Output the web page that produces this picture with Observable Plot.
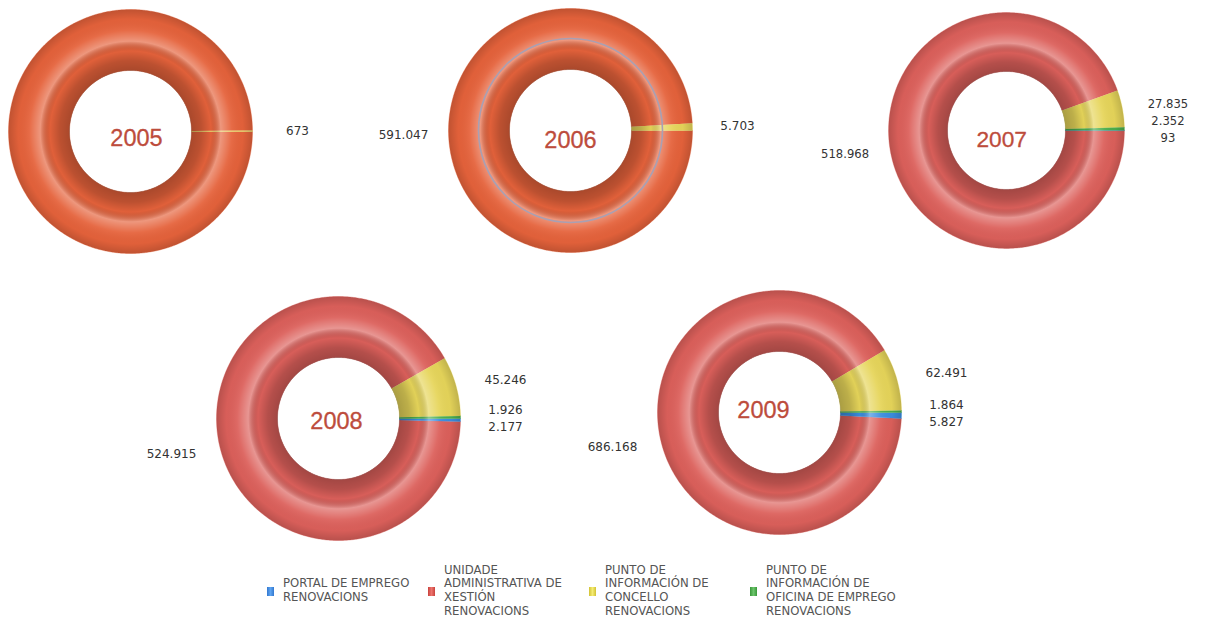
<!DOCTYPE html>
<html><head><meta charset="utf-8">
<script src="https://cdn.jsdelivr.net/npm/d3@7"></script>
<script src="https://cdn.jsdelivr.net/npm/@observablehq/plot@0.6"></script>
<style>
html,body{margin:0;padding:0;background:#fff;width:1209px;height:619px;overflow:hidden;position:relative;font-family:"DejaVu Sans",sans-serif}
.chart{position:absolute}
#legend{position:absolute;left:267px;top:560px;display:flex;align-items:center;height:62px}
.item{width:161px;display:flex;align-items:center}
.sw{width:7px;height:9px;margin-right:9px;flex:none}
.lt{max-width:136px;font-size:11.7px;line-height:13.7px;color:#555}
</style></head>
<body>
<svg width="0" height="0" style="position:absolute;left:0;top:0">
<defs>
<radialGradient id="shade" cx="50%" cy="50%" r="50%">
<stop offset="0" stop-color="#000" stop-opacity="0"/>
<stop offset="0.495" stop-color="#000" stop-opacity="0"/>
<stop offset="0.50" stop-color="#000" stop-opacity="0.26"/>
<stop offset="0.58" stop-color="#000" stop-opacity="0.18"/>
<stop offset="0.66" stop-color="#000" stop-opacity="0.02"/>
<stop offset="0.74" stop-color="#fff" stop-opacity="0.34"/>
<stop offset="0.83" stop-color="#fff" stop-opacity="0.06"/>
<stop offset="0.92" stop-color="#000" stop-opacity="0.02"/>
<stop offset="1.00" stop-color="#000" stop-opacity="0.16"/>
</radialGradient>
</defs>
</svg>
<div id="root"></div>
<div id="legend"></div>
<script>
// ---- data ----
const years = ["2005", "2006", "2007", "2008", "2009"];
const series = [
  "PORTAL DE EMPREGO RENOVACIONS",
  "UNIDADE ADMINISTRATIVA DE XESTIÓN RENOVACIONS",
  "PUNTO DE INFORMACIÓN DE CONCELLO RENOVACIONS",
  "PUNTO DE INFORMACIÓN DE OFICINA DE EMPREGO RENOVACIONS"
];
const portal   = [0, 0, 93, 2177, 5827];
const unidade  = [515000, 591047, 518968, 524915, 686168]; // 2005 value estimated (label off-page)
const concello = [673, 5703, 27835, 45246, 62491];
const oficina  = [0, 0, 2352, 1926, 1864];
const labelShown = [[false, false, true, false], [false, true, true, false], [true, true, true, true], [true, true, true, true], [true, true, true, true]];

// ---- styles / layout ----
const seriesColors = ["#3b8de0", "#dc605b", "#e6d55a", "#4cae4c"];
const unidadeYearColor = ["#e5623b", "#e5623b", "#dc605b", "#dc605b", "#dc605b"];
const swatchGrad = [
  "linear-gradient(to right,#3278d0,#5ea4f0,#3278d0)",
  "linear-gradient(to right,#c9423c,#ec746e,#c9423c)",
  "linear-gradient(to right,#d2c234,#f5ec74,#d2c234)",
  "linear-gradient(to right,#3a983a,#6cc46c,#3a983a)"
];
const centers = [[130, 131], [569.5, 129.5], [1013, 135], [337.5, 417.5], [778.5, 411.5]];
const yearOffsets = [[6, 7], [0, 10], [-5, 10], [-2, 2.5], [-16, -2.5]];
const rOut = 122, rIn = 61, rLabel = 145, labelX = 167, gap = 17.5;
const W = 420, H = 300;

const fmt = d3.formatLocale({decimal: ",", thousands: ".", grouping: [3], currency: ["", "€"]}).format(",d");

function spread(items) {
  items.sort((a, b) => a.y0 - b.y0);
  let groups = items.map(d => ({members: [d], center: d.y0}));
  let changed = true;
  while (changed) {
    changed = false;
    for (let i = 0; i < groups.length - 1; i++) {
      const a = groups[i], b = groups[i + 1];
      const aB = a.center + (a.members.length - 1) * gap / 2;
      const bT = b.center - (b.members.length - 1) * gap / 2;
      if (bT - aB < gap) {
        const members = [...a.members, ...b.members];
        groups.splice(i, 2, {members, center: d3.mean(members, m => m.y0)});
        changed = true; break;
      }
    }
  }
  groups.forEach(g => g.members.forEach((m, k) => { m.y = g.center + (k - (g.members.length - 1) / 2) * gap; }));
}

const root = document.getElementById("root");
years.forEach((year, i) => {
  const values = [portal[i], unidade[i], concello[i], oficina[i]];
  const total = d3.sum(values);
  let acc = 0;
  const slices = values.map((v, s) => {
    const a0 = acc / total * 2 * Math.PI;
    acc += v;
    const a1 = acc / total * 2 * Math.PI;
    return {s, v, a0, a1, mid: (a0 + a1) / 2};
  });
  const drawOrder = slices.filter(d => d.v > 0).sort((a, b) => b.v - a.v);
  const marks = [];
  drawOrder.forEach(sl => {
    const n = Math.max(2, Math.ceil((sl.a1 - sl.a0) / 0.01));
    const pts = [];
    for (let k = 0; k <= n; k++) { const t = sl.a0 + (sl.a1 - sl.a0) * k / n; pts.push({x: rOut * Math.cos(t), y: rOut * Math.sin(t)}); }
    for (let k = n; k >= 0; k--) { const t = sl.a0 + (sl.a1 - sl.a0) * k / n; pts.push({x: rIn * Math.cos(t), y: rIn * Math.sin(t)}); }
    const col = sl.s === 1 ? unidadeYearColor[i] : seriesColors[sl.s];
    marks.push(Plot.line(pts, {x: "x", y: "y", fill: col, stroke: col, strokeWidth: 0.4, curve: "linear"}));
  });
  marks.push(Plot.dot([{x: 0, y: 0}], {x: "x", y: "y", r: rOut, fill: "url(#shade)", stroke: "none"}));
  if (i === 1) marks.push(Plot.dot([{x: 0, y: 0}], {x: "x", y: "y", r: 92, fill: "none", stroke: "#a8a0b4", strokeWidth: 1.6}));

  const labels = slices.filter(d => d.v > 0 && labelShown[i][d.s]).map(d => {
    const right = Math.cos(d.mid) >= 0;
    return {x: right ? labelX : -labelX, y0: rLabel * Math.sin(d.mid), right, text: fmt(d.v)};
  });
  spread(labels.filter(d => d.right));
  spread(labels.filter(d => !d.right));
  marks.push(Plot.text(labels, {x: "x", y: "y", text: "text", textAnchor: "middle", fontSize: 12, fontFamily: "DejaVu Sans", fill: "#333"}));
  marks.push(Plot.text([{x: 0, y: 0, t: year}], {x: "x", y: "y", text: "t", dx: yearOffsets[i][0], dy: yearOffsets[i][1], fontSize: 23.5, fontFamily: "Liberation Sans", fill: "#bd4c3c", stroke: "#bd4c3c", strokeWidth: 0.3}));

  const chart = Plot.plot({
    width: W, height: H, margin: 0,
    x: {domain: [-W / 2, W / 2], axis: null},
    y: {domain: [-H / 2, H / 2], reverse: true, axis: null},
    style: {background: "transparent", overflow: "visible"},
    marks
  });
  const div = document.createElement("div");
  div.className = "chart";
  div.style.left = (centers[i][0] - W / 2) + "px";
  div.style.top = (centers[i][1] - H / 2) + "px";
  div.appendChild(chart);
  root.appendChild(div);
});

const legend = document.getElementById("legend");
series.forEach((name, s) => {
  const item = document.createElement("div"); item.className = "item";
  const sw = document.createElement("div"); sw.className = "sw"; sw.style.background = swatchGrad[s];
  const lt = document.createElement("div"); lt.className = "lt"; lt.textContent = name;
  item.appendChild(sw); item.appendChild(lt); legend.appendChild(item);
});
</script>
</body></html>
